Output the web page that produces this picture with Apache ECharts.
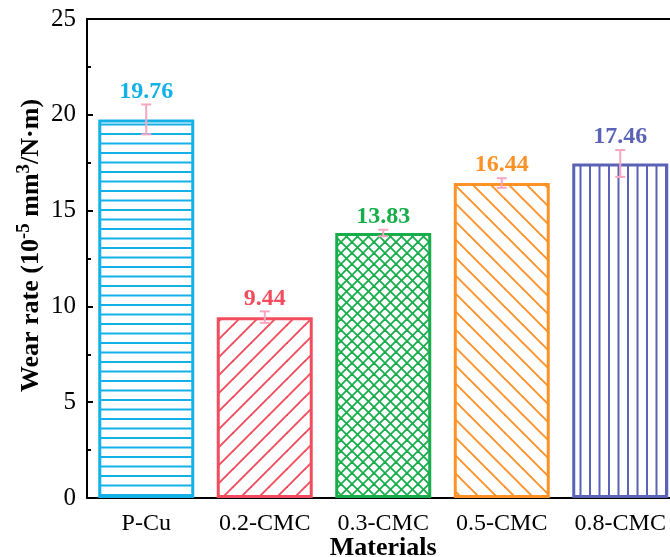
<!DOCTYPE html>
<html>
<head>
<meta charset="utf-8">
<script src="https://cdn.jsdelivr.net/npm/echarts@6/dist/echarts.min.js"></script>
<style>
html,body{margin:0;padding:0;background:#fff;}
#chart{width:670px;height:557px;}
</style>
</head>
<body>
<div id="chart"></div>
<script>
const categories = ['P-Cu', '0.2-CMC', '0.3-CMC', '0.5-CMC', '0.8-CMC'];
const wearRate = [19.76, 9.44, 13.83, 16.44, 17.46];
const wearError = [0.78, 0.30, 0.17, 0.25, 0.70];
const yTicks = [0, 5, 10, 15, 20, 25];

const colors = ['#14b0e8', '#f24c5e', '#16ad4a', '#ff9226', '#5b63b6'];
const errColor = '#f6a6c2';
const SERIF = '"Liberation Serif", "Times New Roman", serif';

function makeTile(w, h, draw) {
  const c = document.createElement('canvas');
  c.width = w; c.height = h;
  const ctx = c.getContext('2d');
  draw(ctx, w, h);
  return c;
}
function horiz(color) {
  return makeTile(8, 19, (ctx, w) => {
    ctx.fillStyle = color;
    ctx.fillRect(0, 0, w, 2);
    ctx.fillRect(0, 9.5, w, 2);
  });
}
function vert(color) {
  return makeTile(19, 8, (ctx, w, h) => {
    ctx.fillStyle = color;
    ctx.fillRect(0, 0, 2, h);
    ctx.fillRect(9.5, 0, 2, h);
  });
}
function diag(color, s, dir) {
  return makeTile(s, s, (ctx) => {
    ctx.strokeStyle = color;
    ctx.lineWidth = 1.9;
    for (let k = -1; k <= 1; k++) {
      ctx.beginPath();
      if (dir > 0) { ctx.moveTo(k * s - 1, s + 1); ctx.lineTo(k * s + s + 1, -1); }
      else { ctx.moveTo(k * s - 1, -1); ctx.lineTo(k * s + s + 1, s + 1); }
      ctx.stroke();
    }
  });
}
function cross(color, s) {
  return makeTile(s, s, (ctx) => {
    ctx.strokeStyle = color;
    ctx.lineWidth = 1.8;
    for (let k = -1; k <= 1; k++) {
      ctx.beginPath(); ctx.moveTo(k * s - 1, s + 1); ctx.lineTo(k * s + s + 1, -1); ctx.stroke();
      ctx.beginPath(); ctx.moveTo(k * s - 1, -1); ctx.lineTo(k * s + s + 1, s + 1); ctx.stroke();
    }
  });
}
const patterns = [
  horiz(colors[0]),
  diag(colors[1], 18, 1),
  cross(colors[2], 11),
  diag(colors[3], 18, -1),
  vert(colors[4])
];

const chart = echarts.init(document.getElementById('chart'), null, {renderer: 'canvas'});

const option = {
  backgroundColor: '#fff',
  animation: false,
  grid: {left: 87, top: 19, width: 592.5, height: 479, outerBoundsMode: 'none'},
  xAxis: [{
    type: 'category',
    data: categories,
    axisLine: {show: true, lineStyle: {color: '#000', width: 2}},
    axisTick: {show: false},
    axisLabel: {fontFamily: SERIF, fontSize: 24, color: '#000', margin: 14, interval: 0},
    name: 'Materials',
    nameLocation: 'middle',
    nameGap: 37,
    nameMoveOverlap: false,
    nameTextStyle: {fontFamily: SERIF, fontSize: 26, fontWeight: 'bold', color: '#000'}
  }, {
    type: 'category',
    position: 'top',
    data: categories,
    axisLine: {show: true, lineStyle: {color: '#000', width: 2}},
    axisTick: {show: false},
    axisLabel: {show: false}
  }],
  yAxis: {
    type: 'value',
    min: yTicks[0],
    max: yTicks[yTicks.length - 1],
    interval: 5,
    axisLine: {show: true, lineStyle: {color: '#000', width: 2}},
    axisTick: {show: true, inside: true, length: 6, lineStyle: {color: '#000', width: 2}},
    minorTick: {show: true, splitNumber: 2, length: 4, lineStyle: {color: '#000', width: 2}},
    splitLine: {show: false},
    axisLabel: {fontFamily: SERIF, fontSize: 25, color: '#000', margin: 11},
    name: 'Wear rate (10{sup|-5} mm{sup|3}/N·m)',
    nameLocation: 'middle',
    nameGap: 40,
    nameMoveOverlap: false,
    nameRotate: 90,
    nameTextStyle: {
      fontFamily: SERIF, fontSize: 26, fontWeight: 'bold', color: '#000',
      lineHeight: 32,
      padding: [0, 0, 0, 26],
      rich: {
        sup: {fontFamily: SERIF, fontSize: 19, fontWeight: 'bold', color: '#000', verticalAlign: 'top', lineHeight: 32}
      }
    }
  },
  series: [{
    type: 'bar',
    barWidth: '81%',
    data: wearRate.map((v, i) => ({
      value: v,
      itemStyle: {
        color: {image: patterns[i], repeat: 'repeat'},
        borderColor: colors[i],
        borderWidth: 3
      }
    }))
  }, {
    type: 'custom',
    data: wearRate.map((v, i) => [i, v, wearError[i]]),
    z: 5,
    renderItem: function (params, api) {
      const i = api.value(0);
      const v = api.value(1);
      const e = api.value(2);
      const top = api.coord([i, v + e]);
      const bot = api.coord([i, v - e]);
      const hw = 5;
      const ls = {stroke: errColor, lineWidth: 2};
      return {
        type: 'group',
        children: [
          {type: 'line', shape: {x1: top[0], y1: top[1], x2: bot[0], y2: bot[1]}, style: ls},
          {type: 'line', shape: {x1: top[0] - hw, y1: top[1], x2: top[0] + hw, y2: top[1]}, style: ls},
          {type: 'line', shape: {x1: bot[0] - hw, y1: bot[1], x2: bot[0] + hw, y2: bot[1]}, style: ls},
          {type: 'text', x: top[0], y: top[1] - 13, style: {
            text: v.toFixed(2), fill: colors[i],
            font: 'bold 24px ' + SERIF,
            align: 'center', verticalAlign: 'middle'
          }}
        ]
      };
    }
  }]
};
chart.setOption(option);
</script>
</body>
</html>
